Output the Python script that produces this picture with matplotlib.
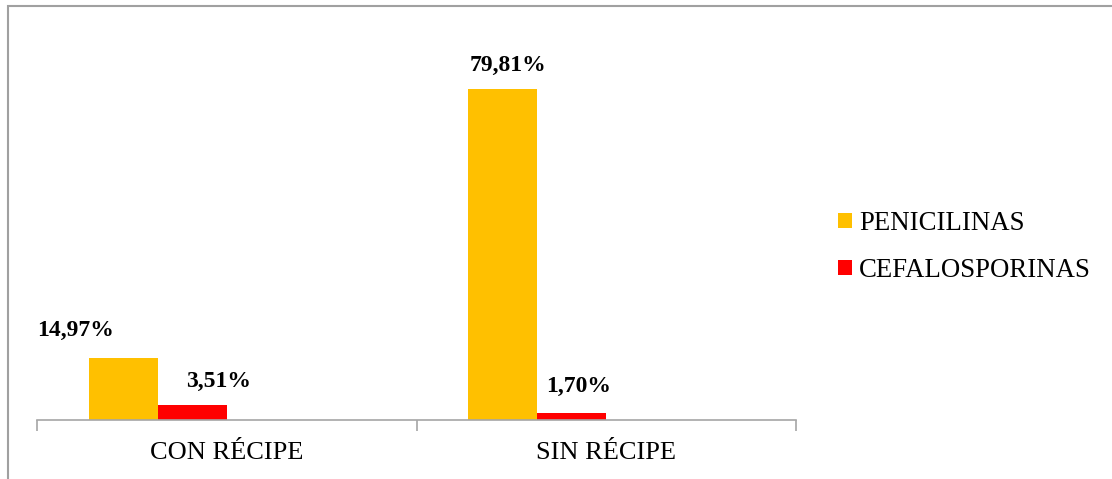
import numpy as np
import matplotlib.pyplot as plt
from matplotlib.patches import Rectangle

categories = ["CON RÉCIPE", "SIN RÉCIPE"]
penicilinas = [14.97, 79.81]
cefalosporinas = [3.51, 1.70]
pen_labels = ["14,97%", "79,81%"]
cef_labels = ["3,51%", "1,70%"]

plt.rcParams['font.family'] = ['Liberation Serif', 'DejaVu Serif']

W, H = 1112, 479
fig = plt.figure(figsize=(W / 100, H / 100), dpi=100)

# plot area (pixel positions)
left, right, base, top = 37, 796, 420, 46.8
ax = fig.add_axes([left / W, 1 - base / H, (right - left) / W, (base - top) / H])

x = np.arange(len(categories))
slot = 69 / 379          # 4 slots per category, two of them empty
gap = 51.5 / 379
pen_x = x - 0.5 + gap + slot / 2
cef_x = pen_x + slot

ax.bar(pen_x, penicilinas, width=slot, color='#FFC000', label='PENICILINAS')
ax.bar(cef_x, cefalosporinas, width=slot, color='#FF0000', label='CEFALOSPORINAS')

ax.set_xlim(-0.5, len(categories) - 0.5)
ax.set_ylim(0, 90)

# label offsets in pixels (hand placed in the original)
pen_dx = [-48, 5]
pen_dy = [27, 24]
cef_dx = [26, 7]
cef_dy = [24, 26]
for i in range(len(categories)):
    ax.annotate(pen_labels[i], (pen_x[i], penicilinas[i]), xytext=(pen_dx[i], pen_dy[i]),
                textcoords='offset pixels', ha='center', va='center',
                fontsize=17, fontweight='bold')
    ax.annotate(cef_labels[i], (cef_x[i], cefalosporinas[i]), xytext=(cef_dx[i], cef_dy[i]),
                textcoords='offset pixels', ha='center', va='center',
                fontsize=17, fontweight='bold')

for s in ['top', 'right', 'left']:
    ax.spines[s].set_visible(False)
ax.spines['bottom'].set_color('#A6A6A6')
ax.spines['bottom'].set_linewidth(1.2)
ax.set_yticks([])
ax.set_xticks([-0.5, 0.5, 1.5], minor=False)
ax.set_xticklabels([])
ax.tick_params(axis='x', length=8, color='#A6A6A6', width=1.2)
ax.set_xticks(x, minor=True)
ax.set_xticklabels(categories, minor=True, fontsize=19)
ax.tick_params(axis='x', which='minor', length=0, pad=16)

fig.legend(loc='center left', bbox_to_anchor=(814 / W, 1 - 247 / H), frameon=False,
           fontsize=19.3, handlelength=0.5, handleheight=0.5, handletextpad=0.27,
           labelspacing=0.82)

# outer chart border (only top and left visible in the crop)
fig.patches.append(Rectangle((7.5 / W, -0.1), 1.2, 1 - 5.5 / H + 0.1, transform=fig.transFigure,
                             fill=False, edgecolor='#A0A0A0', linewidth=1.5))

fig.savefig('out.png', dpi=100)
